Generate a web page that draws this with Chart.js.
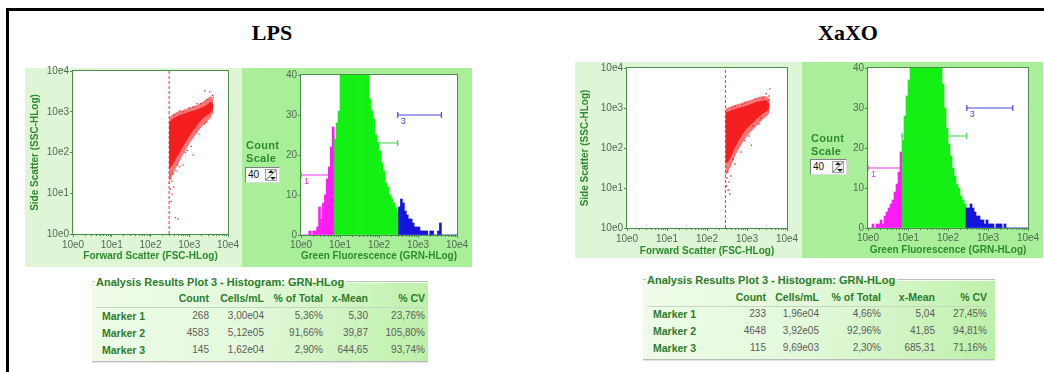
<!DOCTYPE html>
<html>
<head>
<meta charset="utf-8">
<title>GRN-HLog analysis: LPS / XaXO</title>
<script src="https://cdn.jsdelivr.net/npm/chart.js@4.4.1/dist/chart.umd.min.js"></script>
<style>
  html, body { margin: 0; padding: 0; background: #fff; }
  body { width: 1044px; height: 372px; position: relative; overflow: hidden;
         font-family: 'Liberation Sans', Arial, sans-serif; }
  .frame { position: absolute; left: 6px; top: 8px; width: 1060px; height: 400px;
           border-top: 3px solid #000; border-left: 3px solid #000; }
  .sample { position: absolute; top: 21px; width: 200px; text-align: center; color: #000;
            font: bold 22px 'Liberation Serif', 'Times New Roman', serif; line-height: 24px; }
  .panel { position: absolute; }
  .dot-panel { background: #dff6d6; }
  .hist-panel { background: #a9ef99; }
  canvas { position: absolute; }
  .scale-label { position: absolute; z-index: 2; color: #2e8a2e; letter-spacing: 0.3px;
                 font: bold 11px 'Liberation Sans', Arial, sans-serif; line-height: 13px; }
  .spin { position: absolute; z-index: 2; background: #fff; box-sizing: border-box;
          border: 1px solid #808080; border-right-color: #dcdcdc; border-bottom-color: #dcdcdc;
          font: 10px 'Liberation Sans', Arial, sans-serif; line-height: 13px; color: #111; padding-left: 2px; }
  .spin i { position: absolute; right: 2px; top: 1px; width: 10px; height: 10px;
            border: 1px solid #a0a0a0; background: linear-gradient(135deg, #f2f2f2 44%, #7a7a7a 50%, #f2f2f2 56%); }
  .spin i::before, .spin i::after { content: ''; position: absolute; left: 2px; width: 0; height: 0;
            border-left: 3px solid transparent; border-right: 3px solid transparent; }
  .spin i::before { top: 0; border-bottom: 3px solid #222; }
  .spin i::after { bottom: 0; left: 4px; border-top: 3px solid #222; }
  .results { position: absolute; height: 80px; box-sizing: border-box;
             background: linear-gradient(100deg, #eefbe9 0%, #e4f9db 45%, #c8f3b7 85%, #bbf0a7 100%);
             border-bottom: 1px solid #bcbcbc; box-shadow: 0 1px 0 #e4e4e4; }
  .results .caption { position: absolute; left: 0; right: 0; top: -7px; height: 14px;
                      display: flex; align-items: center; }
  .results .rule { height: 1px; background: #b7c7b7; border-bottom: 1px solid #f6fff4; }
  .results .caption span { padding: 0 2px 0 1px; color: #2c7c2c; font: bold 11px 'Liberation Sans', Arial, sans-serif; white-space: nowrap; }
  .results .cell { position: absolute; line-height: 12px; white-space: nowrap; font-size: 10px; }
  .results .head { font-weight: bold; color: #2c7c2c; font-size: 10.5px; }
  .results .name { font-weight: bold; color: #2c7c2c; font-size: 10.5px; }
  .results .val { color: #5c5c5c; }
  .results .sep { position: absolute; left: 4px; right: 4px; height: 1px; background: #c6d6c6; }
</style>
</head>
<body>
<div class="frame"></div>

<div class="sample" style="left:172px">LPS</div>
<div class="sample" style="left:748px">XaXO</div>

<div class="panel dot-panel"  style="left:25px;top:68px;width:217px;height:199px"></div>
<div class="panel hist-panel" style="left:242px;top:68px;width:230px;height:199px"></div>
<div class="panel dot-panel"  style="left:575px;top:62px;width:227px;height:196px"></div>
<div class="panel hist-panel" style="left:802px;top:62px;width:241px;height:196px"></div>

<canvas id="lpsDot"></canvas>
<canvas id="lpsHist"></canvas>
<canvas id="xaxoDot"></canvas>
<canvas id="xaxoHist"></canvas>

<div class="scale-label" style="left:246px;top:139px">Count<br>Scale</div>
<div class="spin" style="left:245px;top:167px;width:35px;height:16px">40<i></i></div>
<div class="scale-label" style="left:811px;top:132px">Count<br>Scale</div>
<div class="spin" style="left:810px;top:159px;width:37px;height:16px">40<i></i></div>

<script>
// axis ticks, in decades of the log channels
const decadeTicks = [0, 1, 2, 3, 4];
const countTicks = [0, 10, 20, 30, 40];

// FSC threshold line on each dot plot
const lpsFscGate = 2.48;
const xaxoFscGate = 2.46;

// dot plots: dense core and sparser fringe of the event cloud (lower / upper SSC edge
// at each FSC position), plus loose events outside it
const lpsCloudX    = [2.48, 2.55, 2.62, 2.70, 2.80, 2.92, 3.05, 3.18, 3.31, 3.44, 3.55, 3.62];
const lpsCoreLow   = [1.60, 1.66, 1.78, 1.92, 2.08, 2.28, 2.47, 2.64, 2.80, 2.90, 2.98, 3.07];
const lpsCoreHigh  = [2.74, 2.81, 2.85, 2.89, 2.93, 2.97, 3.01, 3.05, 3.10, 3.16, 3.24, 3.18];
const lpsFringeLow  = [1.30, 1.40, 1.55, 1.70, 1.88, 2.08, 2.28, 2.46, 2.62, 2.74, 2.85, 2.98];
const lpsFringeHigh = [2.85, 2.92, 2.96, 3.00, 3.03, 3.07, 3.11, 3.16, 3.22, 3.30, 3.38, 3.30];
const lpsEventsX = [2.50, 2.52, 2.49, 2.55, 2.51, 2.56, 2.60, 2.64, 2.71, 2.53, 2.84, 3.10, 2.95, 3.25,
                    3.40, 2.75, 3.05, 3.40, 3.53, 3.60, 3.20, 3.00, 2.75, 3.62, 3.45, 2.60, 2.85,
                    3.10, 3.30, 2.70, 2.90, 3.20, 3.45, 2.58, 2.66];
const lpsEventsY = [1.45, 1.35, 1.25, 1.30, 1.10, 0.98, 1.15, 0.40, 0.37, 0.80, 1.69, 1.94, 2.05, 2.45,
                    2.70, 1.65, 2.15, 3.51, 3.49, 3.40, 3.20, 3.10, 3.02, 3.35, 3.30, 2.92, 3.00,
                    3.12, 3.20, 1.70, 2.00, 2.50, 2.75, 1.48, 1.55];

const xaxoCloudX    = [2.46, 2.53, 2.60, 2.68, 2.78, 2.90, 3.02, 3.15, 3.28, 3.40, 3.50, 3.56];
const xaxoCoreLow   = [1.60, 1.66, 1.78, 1.96, 2.16, 2.36, 2.51, 2.64, 2.76, 2.86, 2.93, 2.99];
const xaxoCoreHigh  = [2.88, 2.91, 2.94, 2.96, 3.00, 3.03, 3.07, 3.12, 3.16, 3.19, 3.18, 3.10];
const xaxoFringeLow  = [1.30, 1.42, 1.55, 1.75, 1.95, 2.15, 2.32, 2.46, 2.60, 2.72, 2.80, 2.88];
const xaxoFringeHigh = [2.98, 3.01, 3.04, 3.07, 3.10, 3.14, 3.18, 3.22, 3.27, 3.30, 3.28, 3.22];
const xaxoEventsX = [2.52, 2.50, 2.55, 2.53, 2.57, 2.48, 2.60, 2.70, 3.11, 2.85, 3.30, 3.05, 3.57, 3.48,
                     3.55, 3.40, 3.20, 2.95, 2.70, 3.56, 2.62, 2.88, 3.15, 3.35, 2.66, 2.95];
const xaxoEventsY = [1.40, 1.25, 1.15, 0.95, 0.85, 1.05, 1.30, 1.60, 2.07, 1.90, 2.60, 2.30, 3.48, 3.36,
                     3.30, 3.25, 3.22, 3.12, 3.05, 3.20, 3.00, 3.08, 2.55, 2.75, 1.72, 2.18];

// GRN-HLog histograms: counts in 0.05-decade bins starting at 10e0
const binWidth = 0.05;
const lpsCounts = [
  0, 0, 0, 0, 1, 0, 1, 1, 2, 7,
  4, 8, 10, 14, 17, 22, 27, 24, 28, 31,
  44, 50, 55, 58, 61, 63, 60, 64, 62, 58,
  57, 54, 52, 49, 43, 34, 31, 29, 25, 23,
  21, 18, 16, 13, 12, 10, 9, 8, 7, 6,
  7, 9, 8, 6, 5, 4, 4, 3, 2, 2,
  2, 1, 1, 1, 1, 0, 1, 1, 0, 0,
  1, 3, 0, 0, 0, 0, 0, 0, 0, 0
];
const xaxoCounts = [
  0, 0, 1, 0, 1, 1, 2, 1, 3, 4,
  5, 6, 7, 9, 11, 14, 19, 22, 28, 33,
  37, 45, 52, 55, 58, 60, 57, 62, 59, 55,
  56, 52, 50, 48, 45, 42, 41, 36, 30, 25,
  21, 18, 15, 13, 11, 10, 8, 7, 6, 5,
  5, 6, 5, 4, 3, 3, 2, 2, 1, 2,
  1, 1, 1, 0, 1, 1, 1, 0, 1, 0,
  0, 0, 0, 0, 0, 0, 0, 0, 0, 0
];

// histogram markers 1-3: start, end (decades) and drawing height (count)
const lpsMarkerFrom  = [0, 0.85, 2.48];
const lpsMarkerTo    = [0.85, 2.48, 3.60];
const lpsMarkerLevel = [15, 23, 30];
const xaxoMarkerFrom  = [0, 0.85, 2.47];
const xaxoMarkerTo    = [0.85, 2.47, 3.62];
const xaxoMarkerLevel = [15, 23, 30];

// results tables
const statColumns = ['Count', 'Cells/mL', '% of Total', 'x-Mean', '% CV'];
const markerNames = ['Marker 1', 'Marker 2', 'Marker 3'];
const lpsCount = ['268', '4583', '145'];
const lpsCells = ['3,00e04', '5,12e05', '1,62e04'];
const lpsPct   = ['5,36%', '91,66%', '2,90%'];
const lpsMean  = ['5,30', '39,87', '644,65'];
const lpsCv    = ['23,76%', '105,80%', '93,74%'];
const xaxoCount = ['233', '4648', '115'];
const xaxoCells = ['1,96e04', '3,92e05', '9,69e03'];
const xaxoPct   = ['4,66%', '92,96%', '2,30%'];
const xaxoMean  = ['5,04', '41,85', '685,31'];
const xaxoCv    = ['27,45%', '94,81%', '71,16%'];

const frameColor = '#4c8c4c';
const titleColor = '#2e8a2e';
const gateColors = ['#ff1cf4', '#14f014', '#1414dc'];
const markerColors = ['#f030ea', '#40cc48', '#4646d2'];

Chart.defaults.font.family = "'Liberation Sans', Arial, sans-serif";
Chart.defaults.font.size = 10;
Chart.defaults.color = '#536a53';

const decadeLabel = v => '10e' + v;

// white plot area, green frame, log minor ticks and marker numbers
const plotFrame = {
  id: 'plotFrame',
  beforeDraw(chart) {
    const { ctx, chartArea: a } = chart;
    ctx.save();
    ctx.fillStyle = '#fff';
    ctx.fillRect(a.left, a.top, a.width, a.height);
    ctx.restore();
  },
  beforeDatasetsDraw(chart, args, opts) {
    const m = opts.markers;
    if (!m) return;
    const { ctx, scales } = chart;
    ctx.save();
    ctx.font = "9px 'Liberation Sans', Arial, sans-serif";
    ctx.textBaseline = 'top';
    m.from.forEach((f, i) => {
      ctx.fillStyle = markerColors[i];
      ctx.fillText(String(i + 1), scales.x.getPixelForValue(f) + 3, scales.y.getPixelForValue(m.level[i]) + 2);
    });
    ctx.restore();
  },
  afterDraw(chart) {
    const { ctx, chartArea: a, scales } = chart;
    ctx.save();
    ctx.strokeStyle = frameColor;
    ctx.lineWidth = 1;
    ctx.strokeRect(a.left - 0.5, a.top - 0.5, a.width + 1, a.height + 1);
    ctx.beginPath();
    for (let d = 0; d < 4; d++) {
      for (let k = 2; k <= 9; k++) {
        const px = Math.round(scales.x.getPixelForValue(d + Math.log10(k))) + 0.5;
        ctx.moveTo(px, a.bottom);
        ctx.lineTo(px, a.bottom + 2);
      }
    }
    ctx.stroke();
    ctx.restore();
  }
};

// pin the plot area to fixed page coordinates
function place(id, box, area, yWidth, xHeight) {
  const c = document.getElementById(id);
  c.width = box.w;
  c.height = box.h;
  c.style.left = box.x + 'px';
  c.style.top = box.y + 'px';
  return {
    canvas: c,
    padding: {
      left: area.l - yWidth - box.x,
      top: area.t - box.y,
      right: box.x + box.w - area.r,
      bottom: box.y + box.h - area.b - xHeight
    },
    fitX: s => { s.height = xHeight; },
    fitY: s => { s.width = yWidth; }
  };
}

function axisTitle(text) {
  return { display: true, text, color: titleColor, font: { weight: 'bold', size: 10 }, padding: 0 };
}

function edge(xs, ys, fill, color) {
  return { data: xs.map((x, i) => ({ x, y: ys[i] })), showLine: true, borderWidth: 0,
           pointRadius: 0, tension: 0.25, fill, backgroundColor: color };
}

function dotPlot(id, box, area, yWidth, xHeight, gate, cx, fLo, fHi, cLo, cHi, ex, ey) {
  const p = place(id, box, area, yWidth, xHeight);
  const red = '#f31c1c';
  return new Chart(p.canvas, {
    type: 'scatter',
    data: {
      datasets: [
        edge(cx, fLo, false, 'transparent'),
        edge(cx, fHi, '-1', 'rgba(244, 32, 32, 0.62)'),
        edge(cx, cLo, false, 'transparent'),
        edge(cx, cHi, '-1', red),
        { data: ex.map((x, i) => ({ x, y: ey[i] })), pointStyle: 'rect', pointRadius: 0.9,
          backgroundColor: red, borderWidth: 0 },
        { data: [{ x: gate, y: 0 }, { x: gate, y: 4 }], showLine: true, borderColor: '#ff2a2a',
          borderWidth: 1, borderDash: [3, 2], pointRadius: 0 }
      ]
    },
    options: {
      responsive: false,
      animation: false,
      events: [],
      layout: { padding: p.padding },
      plugins: { legend: { display: false }, tooltip: { enabled: false } },
      scales: {
        x: {
          type: 'linear', min: 0, max: 4, afterFit: p.fitX,
          afterBuildTicks: s => { s.ticks = decadeTicks.map(value => ({ value })); },
          ticks: { callback: decadeLabel, padding: 2, maxRotation: 0, autoSkip: false },
          grid: { drawOnChartArea: false, tickLength: 3, color: frameColor },
          border: { display: false },
          title: axisTitle('Forward Scatter (FSC-HLog)')
        },
        y: {
          type: 'linear', min: 0, max: 4, afterFit: p.fitY,
          afterBuildTicks: s => { s.ticks = decadeTicks.map(value => ({ value })); },
          ticks: { callback: decadeLabel, padding: 1, autoSkip: false },
          grid: { drawOnChartArea: false, tickLength: 3, color: frameColor },
          border: { display: false },
          title: axisTitle('Side Scatter (SSC-HLog)')
        }
      }
    },
    plugins: [plotFrame]
  });
}

function histogram(id, box, area, yWidth, xHeight, counts, from, to, level) {
  const p = place(id, box, area, yWidth, xHeight);
  const bins = counts.map((c, i) => ({ x: (i + 0.5) * binWidth, y: c }));
  const colors = bins.map(b => b.x < to[0] ? gateColors[0] : b.x < to[1] ? gateColors[1] : gateColors[2]);
  const markers = from.map((f, i) => ({
    type: 'line',
    data: [{ x: f, y: level[i] }, { x: to[i], y: level[i] }],
    borderColor: markerColors[i], borderWidth: 1.2,
    pointStyle: 'line', rotation: 90, pointRadius: 3,
    pointBorderColor: markerColors[i], pointBorderWidth: 1.2,
    order: 2
  }));
  return new Chart(p.canvas, {
    type: 'bar',
    data: {
      datasets: [
        { type: 'bar', data: bins, backgroundColor: colors, borderWidth: 0,
          barPercentage: 1, categoryPercentage: 1, order: 1 },
        ...markers
      ]
    },
    options: {
      responsive: false,
      animation: false,
      events: [],
      layout: { padding: p.padding },
      plugins: {
        legend: { display: false }, tooltip: { enabled: false },
        plotFrame: { markers: { from, level } }
      },
      scales: {
        x: {
          type: 'linear', min: 0, max: 4, offset: false, afterFit: p.fitX,
          afterBuildTicks: s => { s.ticks = decadeTicks.map(value => ({ value })); },
          ticks: { callback: decadeLabel, padding: 1, maxRotation: 0, autoSkip: false },
          grid: { offset: false, drawOnChartArea: false, tickLength: 3, color: frameColor },
          border: { display: false },
          title: axisTitle('Green Fluorescence (GRN-HLog)')
        },
        y: {
          type: 'linear', min: 0, max: 40, afterFit: p.fitY,
          afterBuildTicks: s => { s.ticks = countTicks.map(value => ({ value })); },
          ticks: { padding: 1, autoSkip: false },
          grid: { drawOnChartArea: false, tickLength: 3, color: frameColor },
          border: { display: false }
        }
      }
    },
    plugins: [plotFrame]
  });
}

function resultsTable(left, top, width, colRight, rowY, columns) {
  const box = document.createElement('div');
  box.className = 'results';
  Object.assign(box.style, { left: left + 'px', top: top + 'px', width: width + 'px' });
  box.innerHTML = '<div class="caption"><div class="rule" style="width:3px"></div>' +
    '<span>Analysis Results Plot 3 - Histogram: GRN-HLog</span><div class="rule" style="flex:1"></div></div>' +
    '<div class="sep" style="top:' + (rowY[0] + 9) + 'px"></div>';
  const put = (text, x, y, cls, right) => {
    const d = document.createElement('div');
    d.className = 'cell ' + cls;
    d.textContent = text;
    d.style.top = (y - 6) + 'px';
    if (right) d.style.right = (width - x) + 'px'; else d.style.left = x + 'px';
    box.appendChild(d);
  };
  statColumns.forEach((c, j) => put(c, colRight[j], rowY[0], 'head', true));
  markerNames.forEach((m, i) => {
    put(m, 10, rowY[i + 1], 'name', false);
    columns.forEach((col, j) => put(col[i], colRight[j], rowY[i + 1], 'val', true));
  });
  document.body.appendChild(box);
}

dotPlot('lpsDot', { x: 20, y: 60, w: 225, h: 210 }, { l: 73, t: 71, r: 228, b: 234 }, 44, 28,
        lpsFscGate, lpsCloudX, lpsFringeLow, lpsFringeHigh, lpsCoreLow, lpsCoreHigh, lpsEventsX, lpsEventsY);
histogram('lpsHist', { x: 245, y: 60, w: 225, h: 210 }, { l: 301, t: 75, r: 457, b: 235 }, 30, 27,
          lpsCounts, lpsMarkerFrom, lpsMarkerTo, lpsMarkerLevel);
dotPlot('xaxoDot', { x: 575, y: 55, w: 230, h: 210 }, { l: 627, t: 68, r: 787, b: 228 }, 48, 29,
        xaxoFscGate, xaxoCloudX, xaxoFringeLow, xaxoFringeHigh, xaxoCoreLow, xaxoCoreHigh, xaxoEventsX, xaxoEventsY);
histogram('xaxoHist', { x: 830, y: 55, w: 214, h: 210 }, { l: 868, t: 68, r: 1028, b: 228 }, 30, 28,
          xaxoCounts, xaxoMarkerFrom, xaxoMarkerTo, xaxoMarkerLevel);

resultsTable(92, 282, 336, [117, 172, 231, 276, 333], [16, 34, 51, 68],
             [lpsCount, lpsCells, lpsPct, lpsMean, lpsCv]);
resultsTable(643, 280, 352, [123, 176, 238, 292, 344], [17, 34, 51, 68],
             [xaxoCount, xaxoCells, xaxoPct, xaxoMean, xaxoCv]);
</script>
</body>
</html>
